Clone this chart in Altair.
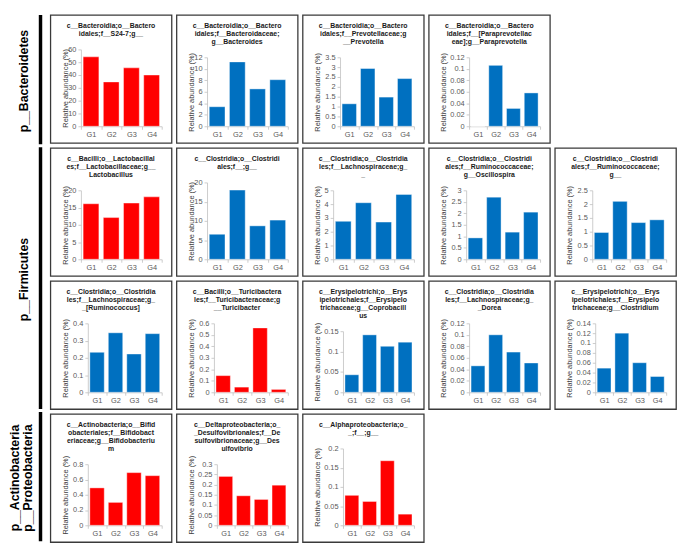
import altair as alt
import pandas as pd

# ---------------- data ----------------
groups = ["G1", "G2", "G3", "G4"]

titles = [
    ["c__Bacteroidia;o__Bactero", "idales;f__S24-7;g__"],
    ["c__Bacteroidia;o__Bactero", "idales;f__Bacteroidaceae;", "g__Bacteroides"],
    ["c__Bacteroidia;o__Bactero", "idales;f__Prevotellaceae;g", "__Prevotella"],
    ["c__Bacteroidia;o__Bactero", "idales;f__[Paraprevotellac", "eae];g__Paraprevotella"],
    ["c__Bacilli;o__Lactobacillal", "es;f__Lactobacillaceae;g__", "Lactobacillus"],
    ["c__Clostridia;o__Clostridi", "ales;f__;g__"],
    ["c__Clostridia;o__Clostridia", "les;f__Lachnospiraceae;g_", "_"],
    ["c__Clostridia;o__Clostridi", "ales;f__Ruminococcaceae;", "g__Oscillospira"],
    ["c__Clostridia;o__Clostridi", "ales;f__Ruminococcaceae;", "g__"],
    ["c__Clostridia;o__Clostridia", "les;f__Lachnospiraceae;g_", "_[Ruminococcus]"],
    ["c__Bacilli;o__Turicibactera", "les;f__Turicibacteraceae;g", "__Turicibacter"],
    ["c__Erysipelotrichi;o__Erys", "ipelotrichales;f__Erysipelo", "trichaceae;g__Coprobacill", "us"],
    ["c__Clostridia;o__Clostridia", "les;f__Lachnospiraceae;g_", "_Dorea"],
    ["c__Erysipelotrichi;o__Erys", "ipelotrichales;f__Erysipelo", "trichaceae;g__Clostridium"],
    ["c__Actinobacteria;o__Bifid", "obacteriales;f__Bifidobact", "eriaceae;g__Bifidobacteriu", "m"],
    ["c__Deltaproteobacteria;o_", "_Desulfovibrionales;f__De", "sulfovibrionaceae;g__Des", "ulfovibrio"],
    ["c__Alphaproteobacteria;o_", "_;f__;g__"],
]

values = [
    [54.2, 34.6, 45.6, 40.0],
    [3.4, 11.2, 6.5, 8.1],
    [1.14, 2.93, 1.48, 2.42],
    [0.0, 0.106, 0.031, 0.058],
    [16.1, 12.1, 16.3, 18.1],
    [6.5, 18.0, 8.7, 10.2],
    [2.75, 4.1, 2.7, 4.7],
    [0.93, 2.7, 1.18, 2.05],
    [0.97, 2.1, 1.33, 1.43],
    [0.232, 0.345, 0.222, 0.34],
    [0.145, 0.045, 0.56, 0.025],
    [0.043, 0.141, 0.113, 0.123],
    [0.046, 0.100, 0.070, 0.051],
    [0.049, 0.120, 0.060, 0.032],
    [0.49, 0.30, 0.69, 0.65],
    [0.24, 0.145, 0.127, 0.197],
    [0.078, 0.062, 0.168, 0.029],
]

bar_color = ["red", "blue", "blue", "blue",
             "red", "blue", "blue", "blue", "blue",
             "blue", "red", "blue", "blue", "blue",
             "red", "red", "red"]

ymax = [60, 12, 3.5, 0.12, 20, 20, 5, 3, 2.5, 0.4, 0.6, 0.15, 0.12, 0.14, 0.8, 0.3, 0.2]
ystep = [10, 2, 0.5, 0.02, 5, 5, 1, 0.5, 0.5, 0.1, 0.1, 0.05, 0.02, 0.02, 0.2, 0.05, 0.05]

rows = [[0, 1, 2, 3], [4, 5, 6, 7, 8], [9, 10, 11, 12, 13], [14, 15, 16]]

phyla = ["p__Bacteroidetes", "p__Firmicutes", "p__Actinobacteria", "p__Proteobacteria"]
phy_start = [0, 1, 3, 3]
phy_end = [1, 3, 4, 4]

# ---------------- style ----------------
RED = "#FF0000"
BLUE = "#0070C0"
FONT = "Liberation Sans, Arial, Helvetica, sans-serif"
PW, PH = 123, 130
BOX = "#3a3a3a"
AXC = "#BFBFBF"
LBL = "#595959"
SP = 3


def fmt(v):
    return f"{v:.4f}".rstrip("0").rstrip(".")


def panel(i):
    n = len(titles[i])
    top = 12 + 8 * (n - 1) + 15
    bottom = 113
    nt = int(round(ymax[i] / ystep[i]))
    ticks = [round(k * ystep[i], 6) for k in range(nt + 1)]
    maxlen = max(len(fmt(t)) for t in ticks)
    left = 31 if maxlen <= 2 else (38 if maxlen == 3 else 41)
    right = 113
    df = pd.DataFrame({"group": groups, "value": values[i]})
    color = RED if bar_color[i] == "red" else BLUE
    bars = alt.Chart(df).mark_bar(
        color=color, width=alt.RelativeBandSize(0.78), stroke="white", strokeWidth=0.4
    ).encode(
        x=alt.X("group:N", sort=groups,
                scale=alt.Scale(range=[left, right], paddingInner=0, paddingOuter=0),
                axis=alt.Axis(title=None, labelAngle=0, offset=-(PH - bottom),
                              tickBand="extent", tickSize=3, labelPadding=1,
                              labelFontSize=7.5, labelColor=LBL, labelFont=FONT,
                              domainColor=AXC, tickColor=AXC, domainWidth=0.8, tickWidth=0.8)),
        y=alt.Y("value:Q",
                scale=alt.Scale(domain=[0, ymax[i]], range=[bottom, top], nice=False, zero=True),
                axis=alt.Axis(title="Relative abundance (%)", values=ticks, format=".4~f",
                              offset=-left, grid=False, tickSize=3, labelPadding=2,
                              labelFontSize=7.5, labelColor=LBL, labelFont=FONT,
                              titleFontSize=7.5, titleFontWeight="normal", titleColor="#404040",
                              titleFont=FONT, titleX=15 - left, titleY=(top + bottom) / 2,
                              titleAngle=270, titleAlign="center", titleBaseline="middle",
                              domainColor=AXC, tickColor=AXC, domainWidth=0.8, tickWidth=0.8)),
    )
    tdf = pd.DataFrame({"t": ["\n".join(titles[i])]})
    ttl = alt.Chart(tdf).mark_text(
        fontSize=7, fontWeight="bold", font=FONT, color="#1a1a1a", align="center",
        baseline="top", lineBreak="\n", lineHeight=8.1
    ).encode(x=alt.value(PW / 2), y=alt.value(7), text="t:N")
    return alt.layer(bars, ttl).properties(
        width=PW, height=PH,
        view=alt.ViewBackground(stroke=BOX, strokeWidth=1.3),
    )


grid_rows = [alt.hconcat(*[panel(i) for i in r], spacing=SP) for r in rows]
grid = alt.vconcat(*grid_rows, spacing=SP)

# ---------------- phylum labels ----------------
phy_df = pd.DataFrame({"name": phyla, "start": phy_start, "end": phy_end})
step = PH + 1.3 + SP
ysc = alt.Scale(domain=[0, 4], range=[0, 4 * step])
GH = 4 * (PH + 1.3) + 3 * SP

base = alt.Chart(phy_df).transform_calculate(mid="(datum.start + datum.end) / 2")

bars_l = base.transform_filter("datum.name != 'p__Proteobacteria'").mark_rule(
    color="black", strokeWidth=3.5, y2Offset=-SP
).encode(
    x=alt.value(32),
    y=alt.Y("start:Q", scale=ysc, axis=None),
    y2="end:Q",
)


def lab(names, xpos):
    flt = " || ".join([f"datum.name == '{nm}'" for nm in names])
    return base.transform_filter(flt).mark_text(
        angle=270, fontSize=12.5, fontWeight="bold", font=FONT, color="black",
        align="center", baseline="middle"
    ).encode(
        x=alt.value(xpos),
        y=alt.Y("mid:Q", scale=ysc, axis=None),
        text="name:N",
    )


left = alt.layer(
    bars_l,
    lab(["p__Bacteroidetes", "p__Firmicutes"], 15),
    lab(["p__Actinobacteria"], 6.5),
    lab(["p__Proteobacteria"], 19.5),
).properties(width=36, height=GH, view=alt.ViewBackground(stroke="transparent"))

chart = alt.hconcat(left, grid, spacing=4).properties(padding=0).configure(background="white")

chart.save("out.html", embed_options={"renderer": "svg", "actions": False})
